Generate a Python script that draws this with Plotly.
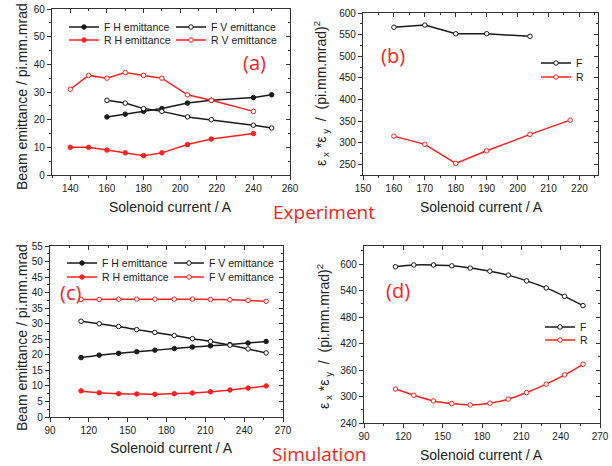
import plotly.graph_objects as go

W, H = 612, 466

# ---------------- data ----------------
# (a) Experiment: beam emittance vs solenoid current
a_FH_x = [160, 170, 180, 190, 204, 217, 240, 250]
a_FH_y = [21, 22, 23, 24, 26, 27, 28, 29]
a_FV_x = [160, 170, 180, 190, 204, 217, 240, 250]
a_FV_y = [27, 26, 24, 23, 21, 20, 18, 17]
a_RH_x = [140, 150, 160, 170, 180, 190, 204, 217, 240]
a_RH_y = [10, 10, 9, 8, 7, 8, 11, 13, 15]
a_RV_x = [140, 150, 160, 170, 180, 190, 204, 217, 240]
a_RV_y = [31, 36, 35, 37, 36, 35, 29, 27, 23]

# (b) Experiment: emittance product
b_F_x = [160, 170, 180, 190, 204]
b_F_y = [567, 572, 552, 552, 546]
b_R_x = [160, 170, 180, 190, 204, 217]
b_R_y = [315, 296, 252, 281, 319, 352]

# (c) Simulation: beam emittance
sim_x = [114, 128, 143, 157, 171, 186, 200, 214, 229, 243, 257]
c_FH_y = [19.1, 19.9, 20.5, 21.0, 21.5, 22.0, 22.5, 22.9, 23.3, 23.8, 24.3]
c_FV_y = [30.8, 30.0, 29.1, 28.1, 27.2, 26.2, 25.2, 24.3, 23.1, 21.9, 20.6]
c_RH_y = [8.4, 7.8, 7.5, 7.4, 7.3, 7.5, 7.7, 8.1, 8.7, 9.3, 10.0]
c_RV_y = [37.8, 37.8, 37.9, 37.9, 37.9, 37.9, 37.9, 37.8, 37.7, 37.5, 37.2]

# (d) Simulation: emittance product
d_F_y = [594, 598, 598, 596, 591, 584, 575, 562, 546, 527, 506]
d_R_y = [317, 303, 290, 284, 281, 285, 294, 309, 328, 349, 373]

# ---------------- style ----------------
BLK = "#1a1a1a"
RED = "#ff2020"
AX = "#333333"
FONT = "Liberation Sans"
LBL = "Open Sans"


def fx(p):
    return p / W


def fy(p):
    return 1 - p / H


panels = [
    dict(xd=[52, 290], yd=[9, 175], xr=[130, 260], yr=[0, 60], xdt=20, xm=10, ydt=10, ym=5, x0=140, y0=0),
    dict(xd=[363, 598], yd=[13, 175], xr=[150, 226], yr=[225, 600], xdt=10, xm=5, ydt=50, ym=25, x0=150, y0=250),
    dict(xd=[50, 283], yd=[246, 417], xr=[90, 270], yr=[0, 55], xdt=30, xm=15, ydt=5, ym=2.5, x0=90, y0=0),
    dict(xd=[364, 600], yd=[246, 423], xr=[90, 270], yr=[240, 641], xdt=30, xm=15, ydt=60, ym=30, x0=240, y0=240),
]

fig = go.Figure()


def line_trace(x, y, color, filled, name, i, legend, spline=False):
    return go.Scatter(
        x=x, y=y, name=name, mode="lines+markers",
        xaxis="x" + (str(i) if i > 1 else ""), yaxis="y" + (str(i) if i > 1 else ""),
        line=dict(color=color, width=1.5, shape="spline" if spline else "linear", smoothing=0.8),
        marker=dict(symbol="circle", size=4.5,
                    color=color if filled else "white",
                    line=dict(color=color, width=1)),
        legend=legend, showlegend=True,
    )


# (a)
fig.add_trace(line_trace(a_FH_x, a_FH_y, BLK, True, "F H emittance", 1, "legend"))
fig.add_trace(line_trace(a_FV_x, a_FV_y, BLK, False, "F V emittance", 1, "legend"))
fig.add_trace(line_trace(a_RH_x, a_RH_y, RED, True, "R H emittance", 1, "legend2"))
fig.add_trace(line_trace(a_RV_x, a_RV_y, RED, False, "R V emittance", 1, "legend2"))
# (b)
fig.add_trace(line_trace(b_F_x, b_F_y, BLK, False, "F", 2, "legend3"))
fig.add_trace(line_trace(b_R_x, b_R_y, RED, False, "R", 2, "legend4"))
# (c)
fig.add_trace(line_trace(sim_x, c_FH_y, BLK, True, "F H emittance", 3, "legend5", True))
fig.add_trace(line_trace(sim_x, c_FV_y, BLK, False, "F V emittance", 3, "legend5", True))
fig.add_trace(line_trace(sim_x, c_RH_y, RED, True, "R H emittance", 3, "legend6", True))
fig.add_trace(line_trace(sim_x, c_RV_y, RED, False, "F V emittance", 3, "legend6", True))
# (d)
fig.add_trace(line_trace(sim_x, d_F_y, BLK, False, "F", 4, "legend7", True))
fig.add_trace(line_trace(sim_x, d_R_y, RED, False, "R", 4, "legend8", True))

layout = {}
for i, p in enumerate(panels, start=1):
    sx = "" if i == 1 else str(i)
    common = dict(showline=True, linecolor=AX, linewidth=1.2, showgrid=False, zeroline=False,
                  tickcolor=AX, tickwidth=1, ticklen=4, automargin=False,
                  tickfont=dict(family=FONT, size=10, color="#222"))
    layout["xaxis" + sx] = dict(
        domain=[fx(p["xd"][0]), fx(p["xd"][1])], range=p["xr"], anchor="y" + sx,
        ticks="outside", dtick=p["xdt"], tick0=p["x0"],
        minor=dict(dtick=p["xm"], ticks="outside", ticklen=2, tickcolor=AX),
        **common)
    layout["yaxis" + sx] = dict(
        domain=[fy(p["yd"][1]), fy(p["yd"][0])], range=p["yr"], anchor="x" + sx,
        ticks="outside", dtick=p["ydt"], tick0=p["y0"],
        minor=dict(dtick=p["ym"], ticks="outside", ticklen=2, tickcolor=AX),
        **common)
    j = i + 4
    layout["xaxis" + str(j)] = dict(
        overlaying="x" + sx, side="top", anchor="y" + sx, range=p["xr"],
        ticks="inside", dtick=p["xdt"], tick0=p["x0"], showticklabels=False,
        minor=dict(dtick=p["xm"], ticks="inside", ticklen=2, tickcolor=AX),
        **common)
    layout["yaxis" + str(j)] = dict(
        overlaying="y" + sx, side="right", anchor="x" + sx, range=p["yr"],
        ticks="inside", dtick=p["ydt"], tick0=p["y0"], showticklabels=False,
        minor=dict(dtick=p["ym"], ticks="inside", ticklen=2, tickcolor=AX),
        **common)
    fig.add_trace(go.Scatter(x=[None], y=[None], xaxis="x" + str(j), yaxis="y" + str(j),
                             showlegend=False, hoverinfo="skip"))

leg_common = dict(bgcolor="rgba(0,0,0,0)", font=dict(family=FONT, size=10.5, color="#222"),
                  yanchor="middle", xanchor="left", itemwidth=30, tracegroupgap=0)
# (a) legend rows
layout["legend"] = dict(x=fx(64), y=fy(27), orientation="h", entrywidth=62, **leg_common)
layout["legend2"] = dict(x=fx(64), y=fy(40), orientation="h", entrywidth=62, **leg_common)
# (b)
layout["legend3"] = dict(x=fx(536), y=fy(63), **leg_common)
layout["legend4"] = dict(x=fx(536), y=fy(77), **leg_common)
# (c)
layout["legend5"] = dict(x=fx(62), y=fy(263), orientation="h", entrywidth=62, **leg_common)
layout["legend6"] = dict(x=fx(62), y=fy(277), orientation="h", entrywidth=62, **leg_common)
# (d)
layout["legend7"] = dict(x=fx(540), y=fy(327), **leg_common)
layout["legend8"] = dict(x=fx(540), y=fy(340), **leg_common)

ann = []


def text(x, y, s, size, color="#222", family=FONT, angle=0):
    ann.append(dict(x=fx(x), y=fy(y), xref="paper", yref="paper", text=s, showarrow=False,
                    xanchor="center", yanchor="middle", textangle=angle,
                    font=dict(family=family, size=size, color=color)))


EPS_TITLE = "ε<sub> x</sub> *ε<sub> y</sub>  /  (pi.mm.mrad)<sup>2</sup>"

# axis titles
text(170, 207, "Solenoid current / A", 14)
text(481, 207, "Solenoid current / A", 14)
text(171, 448, "Solenoid current / A", 14)
text(481, 455, "Solenoid current / A", 14)
text(22, 97, "Beam emittance / pi.mm.mrad", 14, angle=-90)
text(22, 338, "Beam emittance / pi.mm.mrad", 14, angle=-90)
text(321, 94, EPS_TITLE, 14, angle=-90)
text(324, 337, EPS_TITLE, 14, angle=-90)
# panel labels
text(254, 62, "(a)", 20, RED, LBL)
text(393, 55, "(b)", 20, RED, LBL)
text(70, 292, "(c)", 20, RED, LBL)
text(398, 290, "(d)", 20, RED, LBL)
text(324, 212, "Experiment", 19, RED, LBL)
text(319, 454, "Simulation", 19, RED, LBL)

fig.update_layout(
    template="none",
    width=W, height=H, margin=dict(l=0, r=0, t=0, b=0, autoexpand=False),
    paper_bgcolor="white", plot_bgcolor="white",
    annotations=ann, **layout,
)

fig.write_html(
    "out.html",
    config={"displayModeBar": False},
    post_script="document.body.style.margin='0px';document.body.style.overflow='hidden';",
)
